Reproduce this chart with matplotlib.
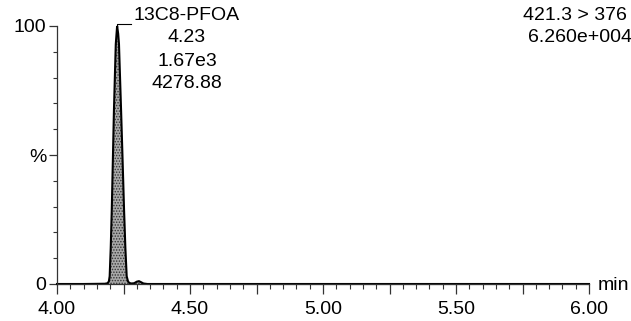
import matplotlib
matplotlib.use("Agg")
import matplotlib.pyplot as plt
from matplotlib.ticker import MultipleLocator, FuncFormatter

plt.rcParams['font.family'] = ['Liberation Sans', 'DejaVu Sans']
plt.rcParams['hatch.color'] = '#222222'
plt.rcParams['hatch.linewidth'] = 0.7

# Chromatogram trace (retention time in min, relative intensity in %)
time_min = [4.00, 4.10, 4.18, 4.190, 4.195, 4.198, 4.202, 4.206, 4.210, 4.214,
            4.218, 4.221, 4.226, 4.230, 4.233, 4.237, 4.241, 4.246, 4.252,
            4.257, 4.262, 4.267, 4.272, 4.28, 4.29, 4.300, 4.308, 4.316,
            4.325, 4.34, 4.50, 5.00, 5.50, 6.00]
intensity_pct = [0, 0, 0.1, 0.3, 1, 3, 14, 29, 48, 67,
                 82, 93, 100, 97, 93, 80, 67, 50, 29,
                 14, 3, 1, 0.4, 0.2, 0.3, 0.9, 1.1, 0.7,
                 0.2, 0, 0, 0, 0, 0]

peak_name = "13C8-PFOA"
peak_rt = "4.23"
peak_height = "1.67e3"
peak_area = "4278.88"
apex_rt = 4.226
channel = "421.3 > 376"
max_intensity = "6.260e+004"

W, H = 631, 321
fig = plt.figure(figsize=(W / 100, H / 100), dpi=100)
ax = fig.add_axes([57 / W, (H - 284) / H, 532 / W, 258 / H])

ax.fill_between(time_min, intensity_pct, 0, facecolor='#a8a8a8',
                hatch='......', edgecolor='#333333', linewidth=0)
ax.plot(time_min, intensity_pct, color='black', lw=1.5, clip_on=False,
        solid_joinstyle='miter')

# annotation bracket at the apex
ax.plot([apex_rt, apex_rt, 4.278], [99.5, 100.6, 100.6], color='black',
        lw=0.8, clip_on=False)

ax.set_xlim(4.0, 6.0)
ax.set_ylim(0, 100)

for s in ['top', 'right']:
    ax.spines[s].set_visible(False)
ax.spines['left'].set_linewidth(0.9)
ax.spines['bottom'].set_linewidth(0.9)
ax.spines['left'].set_color('#333333')
ax.spines['bottom'].set_color('#333333')

ax.xaxis.set_major_locator(MultipleLocator(0.25))
ax.xaxis.set_minor_locator(MultipleLocator(0.05))
ax.xaxis.set_major_formatter(FuncFormatter(
    lambda v, p: f"{v:.2f}" if abs(v * 2 - round(v * 2)) < 1e-6 else ""))
ax.yaxis.set_major_locator(MultipleLocator(50))
ax.yaxis.set_minor_locator(MultipleLocator(10))
ax.yaxis.set_major_formatter(FuncFormatter(
    lambda v, p: {0: "0", 50: "%", 100: "100"}.get(int(round(v)), "")))

ax.tick_params(axis='x', which='major', length=7, width=0.9, pad=5.5,
               labelsize=14, direction='out', color='#333333')
ax.tick_params(axis='x', which='minor', length=3.5, width=0.8,
               direction='out', color='#333333')
ax.tick_params(axis='y', which='major', length=5.5, width=0.9, pad=2,
               labelsize=14, direction='out', color='#333333')
ax.tick_params(axis='y', which='minor', length=3, width=0.8,
               direction='out', color='#333333')

fs = 14
fig.text(598 / W, (H - 285) / H, "min", fontsize=fs, ha='left', va='center')
cx = 187 / W
for txt, y in [(peak_name, 15), (peak_rt, 38), (peak_height, 61), (peak_area, 84)]:
    fig.text(cx, (H - y) / H, txt, fontsize=fs, ha='center', va='center')
fig.text(627 / W, (H - 15) / H, channel, fontsize=fs, ha='right', va='center')
fig.text(632 / W, (H - 38) / H, max_intensity, fontsize=fs, ha='right', va='center')

fig.savefig("out.png", dpi=100, facecolor='white')
